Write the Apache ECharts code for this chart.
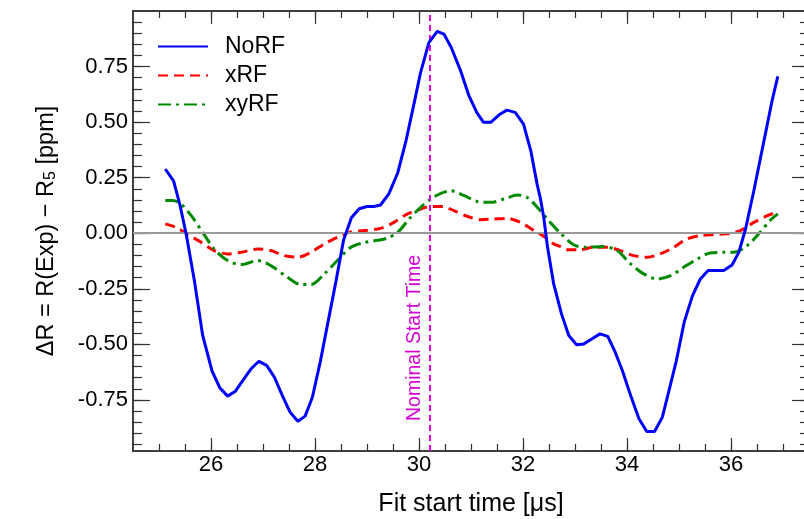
<!DOCTYPE html>
<html><head><meta charset="utf-8">
<script src="https://cdn.jsdelivr.net/npm/echarts@6/dist/echarts.min.js"></script>
<style>html,body{margin:0;padding:0;background:#fff}#c{width:804px;height:519px}</style>
</head><body><div id="c"></div>
<script>
var noRF = [[25.12,0.289],[25.28,0.236],[25.40,0.13],[25.52,0.0],[25.68,-0.213],[25.84,-0.46],[26.02,-0.62],[26.17,-0.696],[26.32,-0.733],[26.47,-0.711],[26.62,-0.66],[26.77,-0.610],[26.92,-0.577],[27.07,-0.595],[27.22,-0.648],[27.37,-0.73],[27.52,-0.805],[27.67,-0.846],[27.81,-0.823],[27.95,-0.738],[28.10,-0.58],[28.25,-0.40],[28.40,-0.22],[28.55,-0.03],[28.70,0.07],[28.85,0.11],[29.00,0.12],[29.13,0.12],[29.26,0.127],[29.42,0.177],[29.59,0.271],[29.75,0.416],[29.91,0.589],[30.03,0.723],[30.19,0.858],[30.35,0.908],[30.48,0.896],[30.62,0.836],[30.80,0.731],[30.96,0.619],[31.11,0.544],[31.24,0.499],[31.38,0.499],[31.54,0.533],[31.69,0.554],[31.85,0.544],[32.01,0.491],[32.15,0.371],[32.27,0.222],[32.34,0.15],[32.40,0.07],[32.47,-0.06],[32.59,-0.228],[32.74,-0.363],[32.88,-0.460],[33.03,-0.502],[33.17,-0.498],[33.33,-0.475],[33.48,-0.453],[33.63,-0.464],[33.76,-0.528],[33.91,-0.618],[34.07,-0.730],[34.23,-0.835],[34.38,-0.892],[34.53,-0.892],[34.68,-0.828],[34.80,-0.715],[34.95,-0.573],[35.10,-0.400],[35.26,-0.281],[35.41,-0.206],[35.56,-0.168],[35.71,-0.168],[35.86,-0.168],[36.02,-0.143],[36.15,-0.086],[36.28,0.019],[36.44,0.192],[36.53,0.296],[36.66,0.446],[36.79,0.596],[36.90,0.706]];
var xRF = [[25.12,0.042],[25.35,0.024],[25.54,-0.003],[25.81,-0.041],[26.06,-0.078],[26.32,-0.093],[26.58,-0.086],[26.90,-0.071],[27.15,-0.078],[27.41,-0.101],[27.67,-0.108],[27.92,-0.086],[28.18,-0.048],[28.43,-0.018],[28.66,0.004],[28.95,0.012],[29.26,0.022],[29.52,0.049],[29.78,0.087],[30.03,0.109],[30.23,0.120],[30.45,0.120],[30.67,0.102],[30.93,0.076],[31.19,0.061],[31.44,0.064],[31.70,0.067],[31.95,0.049],[32.21,0.012],[32.34,-0.005],[32.47,-0.026],[32.59,-0.048],[32.72,-0.060],[32.85,-0.074],[33.10,-0.074],[33.36,-0.063],[33.62,-0.063],[33.87,-0.078],[34.13,-0.101],[34.39,-0.108],[34.64,-0.093],[34.90,-0.063],[35.15,-0.026],[35.41,-0.011],[35.67,-0.006],[35.92,-0.003],[36.18,0.012],[36.44,0.049],[36.70,0.079],[36.90,0.097]];
var xyRF = [[25.12,0.147],[25.26,0.147],[25.42,0.132],[25.62,0.079],[25.84,0.004],[26.06,-0.071],[26.32,-0.123],[26.58,-0.141],[26.90,-0.123],[27.15,-0.146],[27.47,-0.198],[27.73,-0.231],[27.92,-0.231],[28.18,-0.183],[28.43,-0.123],[28.69,-0.063],[28.95,-0.042],[29.20,-0.032],[29.39,-0.022],[29.59,0.004],[29.81,0.064],[30.03,0.116],[30.23,0.154],[30.42,0.179],[30.61,0.191],[30.87,0.169],[31.12,0.143],[31.38,0.139],[31.64,0.154],[31.89,0.172],[32.08,0.161],[32.30,0.110],[32.50,0.055],[32.72,0.0],[32.98,-0.053],[33.23,-0.063],[33.55,-0.060],[33.81,-0.078],[34.07,-0.138],[34.32,-0.183],[34.58,-0.206],[34.84,-0.191],[35.09,-0.153],[35.35,-0.116],[35.60,-0.089],[35.86,-0.086],[36.05,-0.086],[36.31,-0.056],[36.56,0.004],[36.75,0.057],[36.90,0.087]];
var seriesNames = ['NoRF','xRF','xyRF'];
var xMajorTicks = [26,28,30,32,34,36];
var xMinorTicks = [25,25.5,26,26.5,27,27.5,28,28.5,29,29.5,30,30.5,31,31.5,32,32.5,33,33.5,34,34.5,35,35.5,36,36.5,37];
var yMajorTicks = [-0.75,-0.5,-0.25,0,0.25,0.5,0.75];
var yMinorTicks = [-0.95,-0.9,-0.85,-0.8,-0.75,-0.7,-0.65,-0.6,-0.55,-0.5,-0.45,-0.4,-0.35,-0.3,-0.25,-0.2,-0.15,-0.1,-0.05,0,0.05,0.1,0.15,0.2,0.25,0.3,0.35,0.4,0.45,0.5,0.55,0.6,0.65,0.7,0.75,0.8,0.85,0.9,0.95];
var nominalStart = 30.2;
var xMin = 24.5, xMax = 37.5, yMin = -0.98, yMax = 1.0;

var FONT = 'Liberation Sans';
function frame(){ return {show:true, onZero:false, lineStyle:{color:'#333', width:1.5}}; }
function xAx(pos, ticks, len, labels, extra){
  var a = {type:'value', position:pos, min:xMin, max:xMax, splitLine:{show:false},
    axisLine: frame(),
    axisTick:{show:true, inside:true, length:len, customValues:ticks, lineStyle:{color:'#333',width:1.2}},
    axisLabel:{show:labels, customValues:ticks, margin:3, color:'#000', fontFamily:FONT, fontSize:22}};
  return Object.assign(a, extra||{});
}
function yAx(pos, ticks, len, labels, extra){
  var a = {type:'value', position:pos, min:yMin, max:yMax, splitLine:{show:false},
    axisLine: frame(),
    axisTick:{show:true, inside:true, length:len, customValues:ticks, lineStyle:{color:'#333',width:1.2}},
    axisLabel:{show:labels, customValues:ticks, margin:5, color:'#000', fontFamily:FONT, fontSize:22,
      formatter:function(v){return v.toFixed(2);}}};
  return Object.assign(a, extra||{});
}
var chart = echarts.init(document.getElementById('c'), null, {renderer:'canvas'});
chart.setOption({
  animation:false,
  backgroundColor:'#fff',
  grid:{left:133, top:11, right:-5, bottom:68, containLabel:false, outerBoundsMode:'none'},
  legend:{orient:'vertical', left:152, top:30, itemWidth:50, itemHeight:14, itemGap:6,
    data:seriesNames,
    itemStyle:{color:'rgba(0,0,0,0)', borderWidth:0, opacity:0},
    textStyle:{fontFamily:FONT, fontSize:23, color:'#000', lineHeight:23, padding:[0,0,0,12]}},
  xAxis:[
    xAx('bottom', xMajorTicks, 13, true, {name:'Fit start time [μs]', nameLocation:'middle', nameGap:41,
      nameTextStyle:{fontFamily:FONT, fontSize:25, color:'#000'}}),
    xAx('bottom', xMinorTicks, 7, false),
    xAx('top', xMajorTicks, 13, false),
    xAx('top', xMinorTicks, 7, false)
  ],
  yAxis:[
    yAx('left', yMajorTicks, 17, true, {name:'{a|ΔR = R(Exp) − R}{s|5}{a| [ppm]}', nameLocation:'middle', nameGap:74, nameRotate:90,
      nameTextStyle:{fontFamily:FONT, fontSize:23.5, color:'#000',
        rich:{a:{fontFamily:FONT, fontSize:23.5, color:'#000'}, s:{fontFamily:FONT, fontSize:16, color:'#000', verticalAlign:'bottom', padding:[8,0,0,0]}}}}),
    yAx('left', yMinorTicks, 9, false),
    yAx('right', yMajorTicks, 17, false),
    yAx('right', yMinorTicks, 9, false)
  ],
  series:[
    {name:'NoRF', type:'line', data:noRF, xAxisIndex:0, yAxisIndex:0, showSymbol:false, symbol:'none', z:5,
      lineStyle:{color:'#0000ff', width:3}, itemStyle:{color:'#0000ff'},
      markLine:{silent:true, symbol:'none', animation:false,
        data:[
          {xAxis:nominalStart, lineStyle:{color:'#e000e0', type:[6,4], width:2},
            label:{show:true, position:'insideStartTop', formatter:'Nominal Start Time', color:'#d400d4', fontFamily:FONT, fontSize:19.5, distance:[30,5]}},
          {yAxis:0, lineStyle:{color:'#999', type:'solid', width:2}, label:{show:false}}
        ]}},
    {name:'xRF', type:'line', data:xRF, xAxisIndex:0, yAxisIndex:0, showSymbol:false, symbol:'none', smooth:0.3, z:4,
      lineStyle:{color:'#ff0000', width:3, type:[10,6]}, itemStyle:{color:'#ff0000'}},
    {name:'xyRF', type:'line', data:xyRF, xAxisIndex:0, yAxisIndex:0, showSymbol:false, symbol:'none', smooth:0.3, z:4,
      lineStyle:{color:'#008a00', width:3, type:[13,5,3,5]}, itemStyle:{color:'#008a00'}}
  ]
});
</script></body></html>
